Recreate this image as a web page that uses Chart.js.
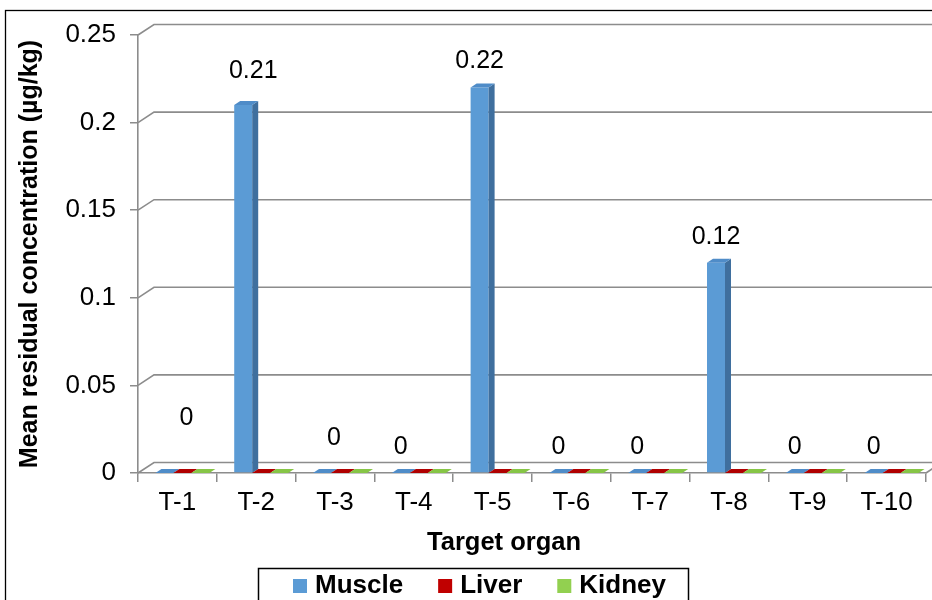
<!DOCTYPE html>
<html>
<head>
<meta charset="utf-8">
<script src="https://cdn.jsdelivr.net/npm/chart.js@4/dist/chart.umd.min.js"></script>
<style>
  html, body { margin: 0; padding: 0; background: #fff; }
  #wrap { width: 932px; height: 600px; position: relative; }
</style>
</head>
<body>
<div id="wrap"><canvas id="chart" width="932" height="600"></canvas></div>
<script>
// Residue data per target organ (µg/kg)
const categories = ['T-1', 'T-2', 'T-3', 'T-4', 'T-5', 'T-6', 'T-7', 'T-8', 'T-9', 'T-10'];
const muscle = [0, 0.21, 0, 0, 0.22, 0, 0, 0.12, 0, 0];
const liver  = [0, 0, 0, 0, 0, 0, 0, 0, 0, 0];
const kidney = [0, 0, 0, 0, 0, 0, 0, 0, 0, 0];
const seriesNames = ['Muscle', 'Liver', 'Kidney'];
const yTickLabels = ['0', '0.05', '0.1', '0.15', '0.2', '0.25'];

// Styling
const FONT = "'Liberation Sans', Arial, Helvetica, sans-serif";
const GRID = '#8c8c8c';
const palette = [
  { front: '#5B9BD5', side: '#3F6F9E', top: '#4F8CC8' },
  { front: '#C00000', side: '#860000', top: '#B00000' },
  { front: '#92D050', side: '#679A36', top: '#86C546' }
];
const barDepth = { dx: 6, dy: 4 };      // extrusion of each bar
const wallDepth = { dx: 16, dy: 10.5 }; // offset of back wall from front plane
const groupShift = 5;                   // bars sit slightly right of category centre
// hand-placed nudges of the Muscle value labels [dx, dy]
const labelNudge = [[22, -29], [10, -8], [12, -9], [0, 0], [0, 0], [0, 0], [0, 0], [0, 0], [0, 0], [0, 0]];
const labelLift = 26;

const threeD = {
  id: 'threeD',
  beforeDraw(chart) {
    const ctx = chart.ctx;
    ctx.save();
    ctx.fillStyle = '#fff';
    ctx.fillRect(0, 0, chart.width, chart.height);
    ctx.strokeStyle = '#000';
    ctx.lineWidth = 1.3;
    ctx.strokeRect(5.5, 10.5, 1200, 1200);
    ctx.restore();
  },
  beforeDatasetsDraw(chart) {
    const { ctx, chartArea: a, scales: { y } } = chart;
    ctx.save();
    ctx.strokeStyle = GRID;
    ctx.lineWidth = 1.6;
    y.ticks.forEach(t => {
      const py = y.getPixelForValue(t.value);
      ctx.beginPath();
      ctx.moveTo(a.left, py);
      ctx.lineTo(a.left + wallDepth.dx, py - wallDepth.dy);
      ctx.lineTo(chart.width + 5, py - wallDepth.dy);
      ctx.stroke();
    });
    const p0 = y.getPixelForValue(0);
    ctx.beginPath();
    ctx.moveTo(a.right, p0);
    ctx.lineTo(a.right + wallDepth.dx, p0 - wallDepth.dy);
    ctx.stroke();
    ctx.restore();
    ctx.save();
    ctx.translate(groupShift, 0);
  },
  afterDatasetsDraw(chart) {
    const { ctx, scales: { y } } = chart;
    const base = y.getPixelForValue(0);
    const { dx, dy } = barDepth;
    chart.data.datasets.forEach((ds, di) => {
      const meta = chart.getDatasetMeta(di);
      const col = palette[di];
      meta.data.forEach(el => {
        const x0 = el.x - el.width / 2, x1 = el.x + el.width / 2;
        const yt = el.y;
        // side face
        if (base - yt > 0.5) {
          ctx.fillStyle = col.side;
          ctx.beginPath();
          ctx.moveTo(x1, yt);
          ctx.lineTo(x1 + dx, yt - dy);
          ctx.lineTo(x1 + dx, base - dy);
          ctx.lineTo(x1, base);
          ctx.closePath();
          ctx.fill();
        }
        // top face
        ctx.fillStyle = col.top;
        ctx.beginPath();
        ctx.moveTo(x0, yt);
        ctx.lineTo(x1, yt);
        ctx.lineTo(x1 + dx, yt - dy);
        ctx.lineTo(x0 + dx, yt - dy);
        ctx.closePath();
        ctx.fill();
      });
    });
    ctx.restore();

    // value labels on the Muscle series
    const meta = chart.getDatasetMeta(0);
    ctx.save();
    ctx.font = `25px ${FONT}`;
    ctx.fillStyle = '#000';
    ctx.textAlign = 'center';
    ctx.textBaseline = 'middle';
    meta.data.forEach((el, i) => {
      const n = labelNudge[i];
      ctx.fillText(String(muscle[i]), el.x + groupShift + n[0], el.y - labelLift + n[1]);
    });
    ctx.restore();
  },
  afterDraw(chart) {
    const ctx = chart.ctx;
    ctx.save();
    // x-axis title
    ctx.font = `bold 25.5px ${FONT}`;
    ctx.fillStyle = '#000';
    ctx.textAlign = 'center';
    ctx.textBaseline = 'alphabetic';
    ctx.fillText('Target organ', 504, 550);
    // legend
    ctx.strokeStyle = '#000';
    ctx.lineWidth = 1.5;
    ctx.strokeRect(258.5, 568.5, 430, 60);
    ctx.font = `bold 26px ${FONT}`;
    ctx.textAlign = 'left';
    let x = 293;
    chart.data.datasets.forEach((ds, i) => {
      ctx.fillStyle = palette[i].front;
      ctx.fillRect(x, 579, 14, 14);
      ctx.fillStyle = '#000';
      ctx.fillText(ds.label, x + 22, 593);
      x += 22 + ctx.measureText(ds.label).width + 35;
    });
    ctx.restore();
  }
};

const series = [muscle, liver, kidney];
new Chart(document.getElementById('chart'), {
  type: 'bar',
  data: {
    labels: categories,
    datasets: series.map((vals, i) => ({
      label: seriesNames[i],
      data: vals,
      backgroundColor: palette[i].front,
      borderWidth: 0,
      categoryPercentage: 0.685,
      barPercentage: 1.0
    }))
  },
  options: {
    responsive: false,
    animation: false,
    events: [],
    devicePixelRatio: 1,
    layout: { padding: { top: 35, right: 6, bottom: 0, left: 0 } },
    plugins: {
      legend: { display: false },
      tooltip: { enabled: false }
    },
    scales: {
      x: {
        grid: { display: true, drawOnChartArea: false, drawTicks: true, tickLength: 9, color: GRID, lineWidth: 1.5, offset: true },
        border: { display: true, color: GRID, width: 1.6 },
        ticks: { color: '#000', font: { family: FONT, size: 26 }, padding: 5, maxRotation: 0, autoSkip: false },
        afterFit(scale) { scale.height = 127; }
      },
      y: {
        min: 0,
        max: 0.25,
        ticks: {
          stepSize: 0.05,
          color: '#000',
          font: { family: FONT, size: 26 },
          padding: 14,
          callback: (v, i) => yTickLabels[i]
        },
        grid: { display: true, drawOnChartArea: false, drawTicks: true, tickLength: 8, color: GRID, lineWidth: 1.5 },
        border: { display: true, color: GRID, width: 1.6 },
        title: {
          display: true,
          text: 'Mean residual concentration (µg/kg)',
          color: '#000',
          font: { family: FONT, size: 25, weight: 'bold' },
          padding: { top: 15, bottom: 0 }
        },
        afterFit(scale) { scale.width = 138; }
      }
    }
  },
  plugins: [threeD]
});
</script>
</body>
</html>
